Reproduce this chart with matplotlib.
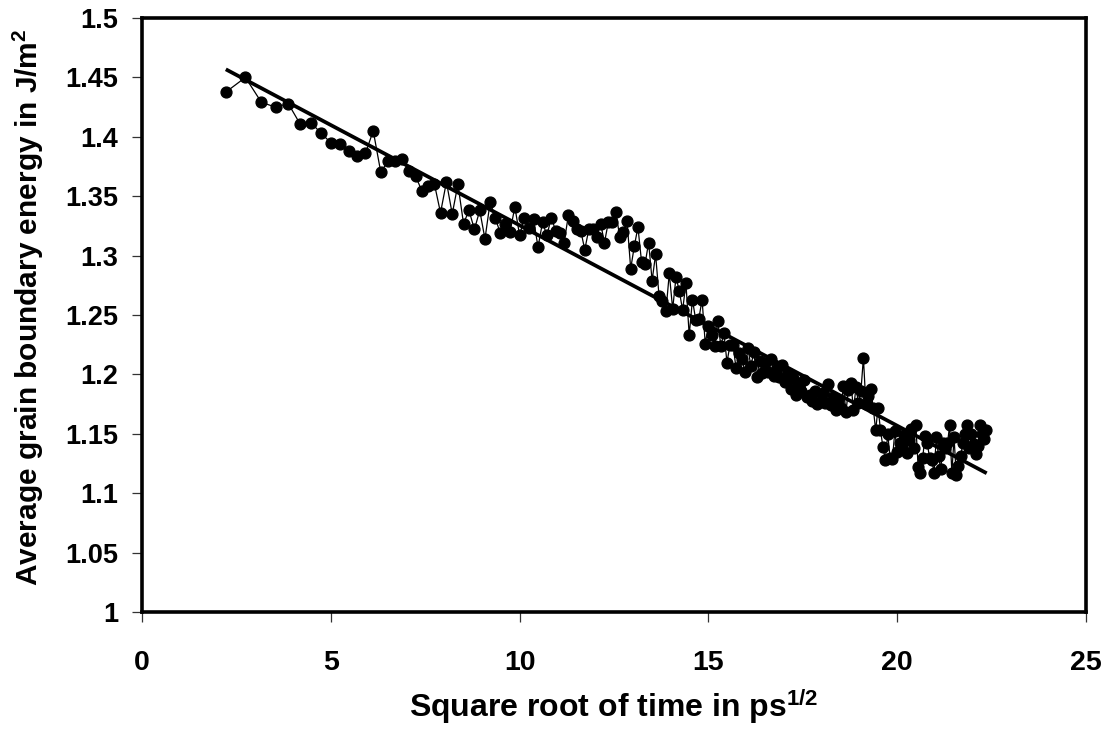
import matplotlib
matplotlib.use("Agg")
import matplotlib.pyplot as plt

plt.rcParams['font.family'] = ['Liberation Sans', 'DejaVu Sans']
plt.rcParams['mathtext.default'] = 'regular'

# sample times in ps (x axis shows their square root)
time_ps = [
    5, 7.5, 10, 12.5, 15, 17.5, 20, 22.5, 25, 27.5, 30, 32.5, 35, 37.5, 40, 42.5, 45, 47.5, 50, 52.5,
    55, 57.5, 60, 62.5, 65, 67.5, 70, 72.5, 75, 77.5, 80, 82.5, 85, 87.5, 90, 92.5, 95, 97.5, 100, 102.5,
    105, 107.5, 110, 112.5, 115, 117.5, 120, 122.5, 125, 127.5, 130, 132.5, 135, 137.5, 140, 142.5, 145, 147.5, 150, 152.5,
    155, 157.5, 160, 162.5, 165, 167.5, 170, 172.5, 175, 177.5, 180, 182.5, 185, 187.5, 190, 192.5, 195, 197.5, 200, 202.5,
    205, 207.5, 210, 212.5, 215, 217.5, 220, 222.5, 225, 227.5, 230, 232.5, 235, 237.5, 240, 242.5, 245, 247.5, 250, 252.5,
    255, 257.5, 260, 262.5, 265, 267.5, 270, 272.5, 275, 277.5, 280, 282.5, 285, 287.5, 290, 292.5, 295, 297.5, 300, 302.5,
    305, 307.5, 310, 312.5, 315, 317.5, 320, 322.5, 325, 327.5, 330, 332.5, 335, 337.5, 340, 342.5, 345, 347.5, 350, 352.5,
    355, 357.5, 360, 362.5, 365, 367.5, 370, 372.5, 375, 377.5, 380, 382.5, 385, 387.5, 390, 392.5, 395, 397.5, 400, 402.5,
    405, 407.5, 410, 412.5, 415, 417.5, 420, 422.5, 425, 427.5, 430, 432.5, 435, 437.5, 440, 442.5, 445, 447.5, 450, 452.5,
    455, 457.5, 460, 462.5, 465, 467.5, 470, 472.5, 475, 477.5, 480, 482.5, 485, 487.5, 490, 492.5, 495, 497.5, 500,
]

# average grain boundary energy (J/m^2)
energy = [
    1.438, 1.450, 1.429, 1.425, 1.428, 1.411,
    1.412, 1.403, 1.395, 1.394, 1.388, 1.384, 1.386, 1.405,
    1.370, 1.380, 1.380, 1.381, 1.371, 1.367, 1.354, 1.359, 1.360,
    1.336, 1.362, 1.335, 1.360, 1.327, 1.338, 1.322, 1.338, 1.314,
    1.345, 1.332, 1.319, 1.327, 1.320, 1.341, 1.317,
    1.332, 1.323, 1.331, 1.307, 1.328, 1.317, 1.332, 1.321, 1.319, 1.311,
    1.334, 1.329, 1.322, 1.321, 1.305, 1.322, 1.322, 1.316, 1.327, 1.311,
    1.328, 1.328, 1.337, 1.316, 1.320, 1.329, 1.289, 1.308, 1.324, 1.295,
    1.293, 1.311, 1.279, 1.301, 1.266,
    1.262, 1.253, 1.285, 1.255, 1.282, 1.270, 1.254, 1.277, 1.233, 1.263,
    1.246, 1.247, 1.263, 1.226, 1.241, 1.233, 1.224, 1.245, 1.224, 1.235,
    1.210, 1.225, 1.225, 1.205, 1.218, 1.213, 1.202, 1.222, 1.207, 1.219,
    1.198, 1.211, 1.201, 1.210, 1.202, 1.213, 1.199, 1.205, 1.198, 1.208,
    1.194, 1.201, 1.188, 1.197, 1.183, 1.192, 1.186, 1.195, 1.181, 1.183,
    1.178, 1.186, 1.175, 1.178, 1.184, 1.176, 1.192, 1.174, 1.181, 1.170,
    1.178, 1.172, 1.190, 1.168, 1.187, 1.193, 1.170, 1.189, 1.176, 1.186,
    1.214, 1.175, 1.182, 1.188, 1.172, 1.153, 1.172, 1.153, 1.139, 1.128,
    1.150, 1.130, 1.129, 1.152, 1.135, 1.142, 1.138, 1.149, 1.134, 1.145,
    1.154, 1.138, 1.157, 1.122, 1.117, 1.130, 1.148, 1.142, 1.130, 1.128,
    1.117, 1.147, 1.131, 1.120, 1.142, 1.138, 1.142, 1.157, 1.117, 1.147,
    1.115, 1.123, 1.131, 1.142, 1.150, 1.157, 1.138, 1.150, 1.141, 1.133,
    1.140, 1.157, 1.150, 1.146, 1.153,
]

# linear trend line end points (sqrt(ps), J/m^2)
trend_x = [2.22, 22.37]
trend_y = [1.4568, 1.1168]

x_ticks = [0, 5, 10, 15, 20, 25]
y_ticks = [1, 1.05, 1.1, 1.15, 1.2, 1.25, 1.3, 1.35, 1.4, 1.45, 1.5]
y_tick_labels = ['1', '1.05', '1.1', '1.15', '1.2', '1.25', '1.3', '1.35', '1.4', '1.45', '1.5']

sqrt_time = [t ** 0.5 for t in time_ps]

fig = plt.figure(figsize=(11.12, 7.37), dpi=100)
ax = fig.add_axes([142 / 1112, 1 - 612 / 737, (1086 - 142) / 1112, (612 - 18) / 737])

ax.plot(sqrt_time, energy, color='black', linewidth=0.9, marker='o',
        markersize=7.8, markerfacecolor='black', markeredgecolor='black', zorder=3)
ax.plot(trend_x, trend_y, color='black', linewidth=2.7, solid_capstyle='butt', zorder=4)

ax.set_xlim(0, 25)
ax.set_ylim(1, 1.5)
ax.set_xticks(x_ticks)
ax.set_xticklabels([str(v) for v in x_ticks])
ax.set_yticks(y_ticks)
ax.set_yticklabels(y_tick_labels)

for s in ax.spines.values():
    s.set_linewidth(2.6)
    s.set_color('black')

ax.tick_params(axis='both', direction='out', length=7.2, width=0.9, color='#333333')
ax.tick_params(axis='y', labelsize=19.5, pad=10)
ax.tick_params(axis='x', labelsize=20.5, pad=20)
for lab in ax.get_xticklabels() + ax.get_yticklabels():
    lab.set_fontweight('bold')

ax.set_xlabel(r'Square root of time in ps$^{1/2}$', fontsize=23, fontweight='bold',
              va='center', ha='center')
ax.xaxis.set_label_coords(0.5, (612 - 707) / 594)
ax.set_ylabel(r'Average grain boundary energy in J/m$^{2}$', fontsize=21.5, fontweight='bold',
              va='center', ha='center')
ax.yaxis.set_label_coords((28 - 142) / 944, (612 - 307) / 594)

fig.savefig('out.png', dpi=100, facecolor='white')
